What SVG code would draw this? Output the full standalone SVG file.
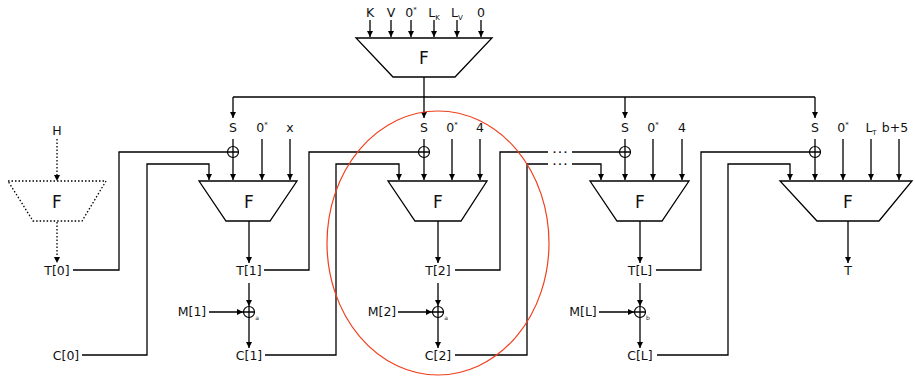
<svg xmlns="http://www.w3.org/2000/svg" width="915" height="376" viewBox="0 0 915 376">
<style>
text{font-family:"DejaVu Sans","Liberation Sans",sans-serif;font-size:12.5px;fill:#111;text-anchor:middle}
.big{font-size:17px}
.sm{font-size:7px}
.tiny{font-size:6px}
.el{font-size:9px;font-weight:bold;letter-spacing:2px}
.ln{fill:none;stroke:#000;stroke-width:1.3}
.arr{fill:none;stroke:#000;stroke-width:1.3;marker-end:url(#ah)}
.dot{fill:none;stroke:#000;stroke-width:1.3;stroke-dasharray:1.5,2}
.trap{fill:#fff;stroke:#000;stroke-width:1.3}
.xor{fill:none;stroke:#000;stroke-width:1.2}
</style>
<defs>
<marker id="ah" viewBox="0 0 8 8" refX="8" refY="4" markerWidth="6" markerHeight="6" orient="auto" markerUnits="userSpaceOnUse"><path d="M0,0 L8,4 L0,8 z" fill="#000"/></marker>
</defs>

<g id="connectors">
<path class="arr" d="M370,20V37"/><path class="arr" d="M391,20V37"/><path class="arr" d="M411,20V37"/>
<path class="arr" d="M434,20V37"/><path class="arr" d="M457,20V37"/><path class="arr" d="M481,20V37"/>
<path class="ln" d="M424,77V97"/>
<path class="ln" d="M233,97H815"/>
<path class="arr" d="M233,97V118"/><path class="arr" d="M424,97V118"/><path class="arr" d="M625,97V118"/><path class="arr" d="M815,97V118"/>
<path class="arr" d="M233,139V180"/><path class="arr" d="M262,139V180"/><path class="arr" d="M290,139V180"/>
<path class="arr" d="M424,139V180"/><path class="arr" d="M452,139V180"/><path class="arr" d="M480,139V180"/>
<path class="arr" d="M625,139V180"/><path class="arr" d="M653,139V180"/><path class="arr" d="M682,139V180"/>
<path class="arr" d="M815,139V180"/><path class="arr" d="M843,139V180"/><path class="arr" d="M871,139V180"/><path class="arr" d="M899,139V180"/>
<path class="dot" d="M57,139V176"/><path d="M54,175L57,181L60,175z" fill="#000"/>
<path class="dot" d="M57,222V258"/><path d="M54,257L57,263L60,257z" fill="#000"/>
<path class="ln" d="M73,270H119V152H238.5"/>
<path class="arr" d="M82,355H147V164H209V180"/>
<path class="ln" d="M264,270H309V152H429.5"/>
<path class="arr" d="M265,355H336V164H399V180"/>
<path class="ln" d="M455,270H500V152H548"/>
<path class="ln" d="M572,152H630.5"/>
<path class="ln" d="M455,355H527V164H548"/>
<path class="arr" d="M572,164H601V180"/>
<path class="ln" d="M656,270H701V152H820.5"/>
<path class="arr" d="M657,355H728V164H790V180"/>
<path class="arr" d="M249,221V263"/><path class="arr" d="M249,283V306"/><path class="arr" d="M249,317V348"/>
<path class="arr" d="M438,221V263"/><path class="arr" d="M438,283V306"/><path class="arr" d="M438,317V348"/>
<path class="arr" d="M640,221V263"/><path class="arr" d="M640,283V306"/><path class="arr" d="M640,317V348"/>
<path class="arr" d="M848,221V263"/>
<path class="arr" d="M209,312H243"/>
<path class="arr" d="M398,312H432"/>
<path class="arr" d="M599,312H634"/>
</g>

<g id="dots">
<text class="el" x="561" y="155">···</text>
<text class="el" x="561" y="167">···</text>
</g>

<g id="F0">
<polygon class="trap" points="356,38 492,38 455,77 393,77"/>
<text class="big" x="424" y="64">F</text>
<text x="370" y="17">K</text><text x="391" y="17">V</text>
<text x="411" y="17">0<tspan class="sm" dy="-5">*</tspan></text>
<text x="434" y="17">L<tspan class="sm" dy="3">K</tspan></text>
<text x="457" y="17">L<tspan class="sm" dy="3">V</tspan></text>
<text x="481" y="17">0</text>
</g>

<g id="Fdotted">
<polygon points="8,181 106,181 82,221 33,221" fill="none" stroke="#000" stroke-width="1.3" stroke-dasharray="1.5,2"/>
<text class="big" x="57" y="208">F</text>
<text x="57" y="135">H</text>
<text x="57" y="275">T[0]</text>
<text x="66" y="360">C[0]</text>
</g>

<g id="F1">
<polygon class="trap" points="199,181 297,181 270,221 226,221"/>
<text class="big" x="249" y="208">F</text>
<text x="233" y="132">S</text>
<text x="262" y="132">0<tspan class="sm" dy="-5">*</tspan></text>
<text x="290" y="132">x</text>
<circle class="xor" cx="233" cy="152" r="5.5"/>
<text x="249" y="275">T[1]</text>
<text x="192" y="316">M[1]</text>
<circle class="xor" cx="249" cy="312" r="5.5"/><path class="ln" d="M243.5,312H254.5M249,306.5V317.5"/>
<text class="tiny" x="257" y="320">a</text>
<text x="249" y="360">C[1]</text>
</g>

<g id="F2">
<polygon class="trap" points="388,181 487,181 461,221 415,221"/>
<text class="big" x="438" y="208">F</text>
<text x="424" y="132">S</text>
<text x="452" y="132">0<tspan class="sm" dy="-5">*</tspan></text>
<text x="480" y="132">4</text>
<circle class="xor" cx="424" cy="152" r="5.5"/>
<text x="438" y="275">T[2]</text>
<text x="382" y="316">M[2]</text>
<circle class="xor" cx="438" cy="312" r="5.5"/><path class="ln" d="M432.5,312H443.5M438,306.5V317.5"/>
<text class="tiny" x="446" y="320">a</text>
<text x="438" y="360">C[2]</text>
</g>

<g id="FL">
<polygon class="trap" points="590,181 689,181 662,221 617,221"/>
<text class="big" x="640" y="208">F</text>
<text x="625" y="132">S</text>
<text x="653" y="132">0<tspan class="sm" dy="-5">*</tspan></text>
<text x="682" y="132">4</text>
<circle class="xor" cx="625" cy="152" r="5.5"/>
<text x="640" y="275">T[L]</text>
<text x="583" y="316">M[L]</text>
<circle class="xor" cx="640" cy="312" r="5.5"/><path class="ln" d="M634.5,312H645.5M640,306.5V317.5"/>
<text class="tiny" x="648" y="320">b</text>
<text x="640" y="360">C[L]</text>
</g>

<g id="Ffinal">
<polygon class="trap" points="780,181 912,181 879,221 817,221"/>
<text class="big" x="848" y="208">F</text>
<text x="815" y="132">S</text>
<text x="843" y="132">0<tspan class="sm" dy="-5">*</tspan></text>
<text x="871" y="132">L<tspan class="sm" dy="3">T</tspan></text>
<text x="895" y="132">b+5</text>
<circle class="xor" cx="815" cy="152" r="5.5"/>
<text x="848" y="275">T</text>
</g>

<g id="highlight">
<ellipse cx="438" cy="243" rx="111" ry="132" fill="none" stroke="#f0401e" stroke-width="1.2"/>
</g>
</svg>
